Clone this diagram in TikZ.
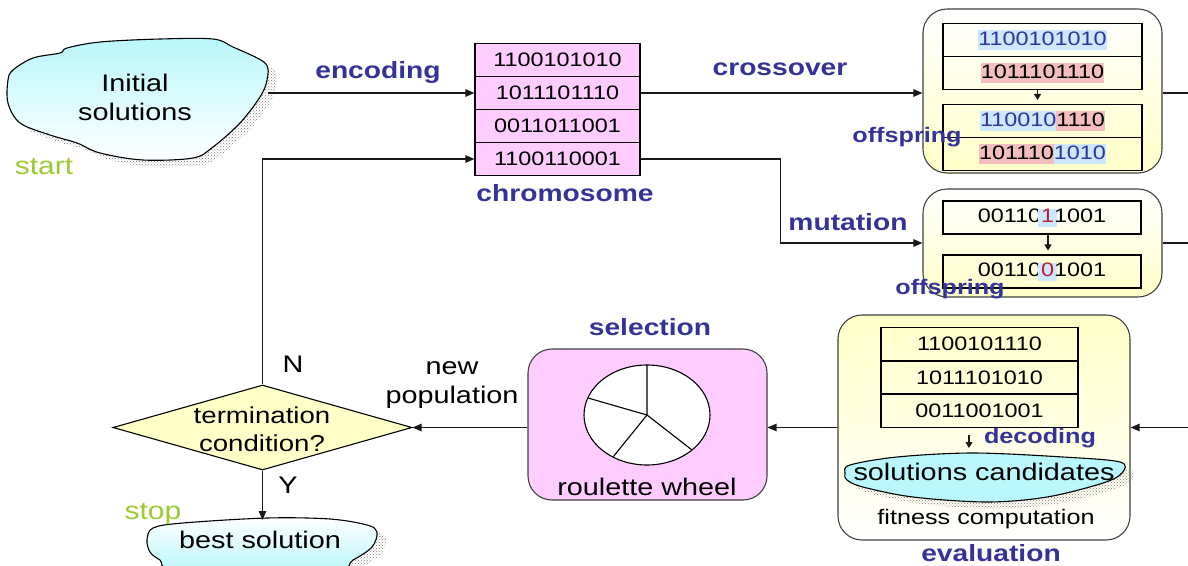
\documentclass[tikz,border=0pt]{standalone}
\usepackage{fontspec}
\setmainfont{Liberation Sans}[FakeStretch=1.2]
\usetikzlibrary{arrows.meta,shapes.geometric,patterns,calc}

\definecolor{labelblue}{RGB}{51,51,153}
\definecolor{startgreen}{RGB}{153,204,51}
\definecolor{chrompink}{RGB}{255,204,255}
\definecolor{paleyel}{RGB}{255,255,200}
\definecolor{cloudcyan}{RGB}{185,247,252}
\definecolor{hlblue}{RGB}{204,232,255}
\definecolor{hlred}{RGB}{245,190,190}
\definecolor{mutred}{RGB}{190,30,45}

\newcommand\setfs[1]{\fontsize{#1}{#1}\selectfont}
\setlength\fboxsep{0pt}
% highlighted bit strings
\newcommand\hlb[1]{\colorbox{hlblue}{\rule[-5pt]{0pt}{20pt}\textcolor{labelblue}{#1}}}
\newcommand\hlr[1]{\colorbox{hlred}{\rule[-5pt]{0pt}{20pt}#1}}
\newcommand\hlm[1]{\kern-3pt\colorbox{hlblue}{\kern3pt\rule[-4pt]{0pt}{18pt}\textcolor{mutred}{#1}\kern3pt}\kern-3pt}
% cloud with dotted drop shadow
\newcommand\cloud[2]{%
  \fill[pattern=crosshatch dots, pattern color=black!50, xshift=9pt, yshift=-7pt]
    plot[smooth cycle, tension=.55] coordinates {#2};
  \draw[line width=1.1pt, #1] plot[smooth cycle, tension=.55] coordinates {#2};}

\begin{document}
\begin{tikzpicture}[x=1pt, y=-1pt,
  ln/.style={line width=1.2pt, draw=black!90},
  arr/.style={ln, -{Triangle[length=9pt, width=7.5pt]}},
  smallarr/.style={ln, -{Triangle[length=6pt, width=7pt]}},
  cellbox/.style={draw, line width=1.1pt, minimum width=#1, minimum height=33pt,
    inner sep=0pt, font=\setfs{19.5}},
  panel/.style={draw=black!75, line width=1.1pt, rounded corners=24pt, inner sep=0pt},
  lbl/.style={font=\bfseries\setfs{23.5}, text=labelblue, inner sep=0pt},
  smalllbl/.style={font=\bfseries\setfs{21}, text=labelblue, inner sep=0pt},
  txt/.style={font=\fontsize{24}{29}\selectfont, align=center, inner sep=0pt},
  greentxt/.style={font=\setfs{25}, text=startgreen, inner sep=0pt}]
\useasboundingbox (0,0) rectangle (1188,565);
\clip (0,0) rectangle (1188,565);

% initial population
\cloud{top color=cloudcyan, bottom color=white}{(8,80) (13,70) (33,58) (60,53) (67,48) (100,42) (160,39) (213,39) (233,47) (265,63) (267,80) (260,97) (240,123) (213,147) (193,158) (143,160) (100,153) (77,143) (50,135) (20,123) (8,103)}
\node[txt] (init) at (135,97) {Initial\\solutions};
\node[greentxt] (start) at (44,167) {start};
\coordinate (initE) at (268,93);

% chromosome table
\node[cellbox=165pt, fill=chrompink] (c1) at (557.5,60) {1100101010};
\node[cellbox=165pt, fill=chrompink] (c2) at (557.5,93) {1011101110};
\node[cellbox=165pt, fill=chrompink] (c3) at (557.5,126) {0011011001};
\node[cellbox=165pt, fill=chrompink] (c4) at (557.5,159) {1100110001};

% crossover panel
\node[panel, top color=white, bottom color=paleyel, minimum width=239pt, minimum height=164pt] (xbox) at (1042.5,91) {};
\node[cellbox=199pt] (x1) at (1042.5,40) {\hlb{1100101010}};
\node[cellbox=199pt] (x2) at (1042.5,73) {\hlr{1011101110}};
\node[cellbox=199pt] (x3) at (1042.5,121) {\hlb{110010}\hlr{1110}};
\node[cellbox=199pt] (x4) at (1042.5,154) {\hlr{101110}\hlb{1010}};
\draw[smallarr] ([xshift=-5pt]x2.south) -- ([xshift=-5pt,yshift=4pt]x3.north);

% mutation panel
\node[panel, top color=white, bottom color=paleyel, minimum width=239pt, minimum height=108pt] (mbox) at (1042.5,243) {};
\node[cellbox=198pt] (m1) at (1042,217.5) {00110\hlm{1}1001};
\node[cellbox=198pt] (m2) at (1042,271.5) {00110\hlm{0}1001};
\draw[smallarr] ([xshift=6pt]m1.south) -- ([xshift=6pt,yshift=4pt]m2.north);

% evaluation panel
\node[panel, top color=paleyel, bottom color=white, minimum width=292pt, minimum height=225pt] (ebox) at (984,427.5) {};
\node[cellbox=197pt] (e1) at (979.5,344) {1100101110};
\node[cellbox=197pt] (e2) at (979.5,377.5) {1011101010};
\node[cellbox=197pt] (e3) at (979.5,411) {0011001001};
\cloud{fill=cloudcyan}{(845,473) (850,465) (897,457) (973,453) (1063,457) (1120,462) (1122,473) (1103,483) (1047,497) (987,502) (913,497) (863,487) (847,480)}
\node[txt] (cand) at (984,472) {solutions candidates};
\node[txt, font=\setfs{21}] (fit) at (986,519) {fitness computation};
\coordinate (decA) at (969,435);
\coordinate (decB) at (969,448);
\draw[smallarr] (decA) -- (decB);

% selection panel
\node[panel, fill=chrompink, minimum width=239pt, minimum height=151pt] (selbox) at (647.5,424.5) {};
\draw[line width=1.1pt, fill=white] (647,415) ellipse [x radius=63, y radius=50];
\draw[line width=1.1pt] (647,365) -- (647,415) -- (588,398);
\draw[line width=1.1pt] (613,457) -- (647,415) -- (692,450);
\node[txt] (wheel) at (647,487) {roulette wheel};

% termination test
\node[diamond, draw, line width=1.1pt, fill=paleyel, minimum width=299pt, minimum height=85pt, inner sep=0pt] (dia) at (262.5,427.5) {};
\node[txt, font=\fontsize{23}{28}\selectfont] (term) at (262,429) {termination\\condition?};

% best solution
\cloud{top color=white, bottom color=cloudcyan}{(147,540) (153,528) (183,523) (267,518) (330,519) (367,525) (377,532) (372,547) (353,560) (330,570) (180,570) (160,560) (150,552)}
\node[txt] (best) at (260,540) {best solution};
\coordinate (bestT) at (262.5,520);
\node[greentxt] (stop) at (153,514) {stop};

% connectors
\coordinate (xout) at (1188,93);
\coordinate (mout) at (1188,243);
\coordinate (ein) at (1188,427.5);
\draw[arr] (initE) -- (c2.west);
\draw[arr] (c2.east) -- (c2.east -| xbox.west);
\draw[arr] (c4.east) -- ++(140,0) |- (mbox.west);
\draw[ln] (xbox.east |- xout) -- (xout);
\draw[ln] (mbox.east) -- (mout);
\draw[arr] (ein) -- (ebox.east);
\draw[arr] (ebox.west) -- (ebox.west -| selbox.east);
\draw[arr] (selbox.west |- dia.east) -- (dia.east);
\draw[arr] (dia.north) |- (c4.west);
\draw[arr] (dia.south) -- (bestT);

% labels
\node[lbl] (encL) at (378,72) {encoding};
\node[lbl] (crossL) at (780,69) {crossover};
\node[lbl] (chromL) at (565,193) {chromosome};
\node[lbl] (mutL) at (848,222) {mutation};
\node[smalllbl] (off1) at (907,137) {offspring};
\node[smalllbl] (off2) at (950,289) {offspring};
\node[lbl] (selL) at (650,327) {selection};
\node[lbl] (evalL) at (991,553) {evaluation};
\node[smalllbl] (decL) at (1040,438) {decoding};
\node[txt] (newpop) at (452,385) {new\\population};
\node[txt] (nL) at (293,364) {N};
\node[txt] (yL) at (288,485) {Y};
\end{tikzpicture}
\end{document}
